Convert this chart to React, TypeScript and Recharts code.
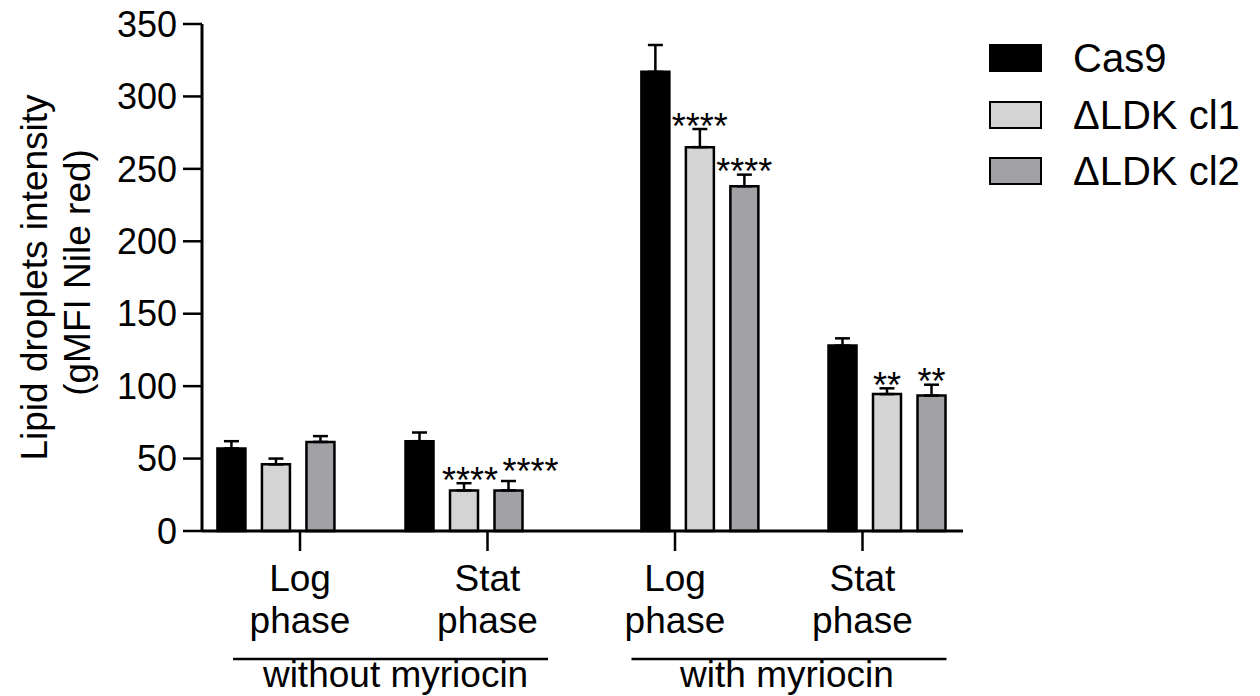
import React from 'react';
import { BarChart, Bar, XAxis, YAxis, ErrorBar, Legend, LabelList } from 'recharts';

const FONT = '"Liberation Sans", Arial, Helvetica, sans-serif';

// Category (tick) labels
const tickLine1 = ['Log', 'Stat', 'Log', 'Stat'];
const tickLine2 = ['phase', 'phase', 'phase', 'phase'];
const tickValues = [1, 2, 3, 4];
// Bar group positions on the numeric x scale (Prism offsets bars from ticks, with a wider gap between treatments)
const groupX = [0.872, 1.875, 3.133, 4.131];
// Treatment brackets
const treatments = ['without myriocin', 'with myriocin'];
const treatmentX = [1.483, 3.608];

// Series values
const seriesNames = ['Cas9', '\u0394LDK cl1', '\u0394LDK cl2'];
const seriesColors = ['#000000', '#d4d4d4', '#a2a2a6'];
const cas9 = [57, 62, 317, 128];
const cas9Err = [5, 6, 18.5, 5];
const cl1 = [46, 28, 265, 94.5];
const cl1Err = [4, 5, 12.5, 4];
const cl2 = [61.5, 28, 238, 93.5];
const cl2Err = [4, 6.5, 8, 7.5];
const cl1Sig = ['', '****', '****', '**'];
const cl2Sig = ['', '****', '****', '**'];

const yTicks = [0, 50, 100, 150, 200, 250, 300, 350];

const data = groupX.map((x, i) => ({
  x,
  cas9: cas9[i],
  cas9Err: [0, cas9Err[i]],
  cl1: cl1[i],
  cl1Err: [0, cl1Err[i]],
  cl1Sig: cl1Sig[i],
  cl2: cl2[i],
  cl2Err: [0, cl2Err[i]],
  cl2Sig: cl2Sig[i],
}));

const sigShift: Record<string, number[][]> = {
  cl1: [[0, 0], [6, 0], [0, 0], [0, 0]],
  cl2: [[0, 0], [22, -7], [0, 0], [0, 0]],
};

const makeSigLabel = (key: 'cl1' | 'cl2', errArr: number[], valArr: number[]) => (props: any) => {
  const { x, y, width, height, index, value } = props;
  if (!value) return null;
  const v = valArr[index];
  const pxPerUnit = height / v;
  const capY = y - errArr[index] * pxPerUnit;
  const [dx, dy] = sigShift[key][index];
  const cy = capY - 11 + dy;
  const fs = 36;
  return (
    <text
      x={x + width / 2 + dx}
      y={cy + 0.575 * fs}
      textAnchor="middle"
      fontFamily={FONT}
      fontSize={fs}
      fill="#000"
    >
      {value}
    </text>
  );
};

const XTick = (props: any) => {
  const { x, y, payload } = props;
  const i = tickValues.indexOf(payload.value);
  return (
    <g>
      <text x={x} y={y + 40} textAnchor="middle" fontFamily={FONT} fontSize={37} fill="#000">
        {tickLine1[i]}
      </text>
      <text x={x} y={y + 82} textAnchor="middle" fontFamily={FONT} fontSize={37} fill="#000">
        {tickLine2[i]}
      </text>
    </g>
  );
};

const GroupTick = (props: any) => {
  const { x, y, payload } = props;
  const i = treatmentX.indexOf(payload.value);
  return (
    <g>
      <line x1={x - 157.5} x2={x + 157.5} y1={y + 20} y2={y + 20} stroke="#000" strokeWidth={2.5} />
      <text x={x + (i === 0 ? 5 : -2)} y={y + 48} textAnchor="middle" fontFamily={FONT} fontSize={37} fill="#000">
        {treatments[i]}
      </text>
    </g>
  );
};

const YLabel = (props: any) => {
  const { viewBox } = props;
  const cy = viewBox.y + viewBox.height / 2;
  const c1 = cy;
  const c2 = cy - 5;
  return (
    <g>
      <text
        x={47}
        y={c1}
        transform={`rotate(-90, 47, ${c1})`}
        textAnchor="middle"
        fontFamily={FONT}
        fontSize={37}
        fill="#000"
      >
        Lipid droplets intensity
      </text>
      <text
        x={90}
        y={c2}
        transform={`rotate(-90, 90, ${c2})`}
        textAnchor="middle"
        fontFamily={FONT}
        fontSize={37}
        fill="#000"
      >
        (gMFI Nile red)
      </text>
    </g>
  );
};

const LegendContent = () => (
  <div style={{ fontFamily: FONT, fontSize: 40, color: '#000' }}>
    {seriesNames.map((n, i) => (
      <div key={n} style={{ display: 'flex', alignItems: 'center', height: 56.5 }}>
        <div
          style={{
            width: 53,
            height: 28,
            boxSizing: 'border-box',
            background: seriesColors[i],
            border: '2.5px solid #000',
          }}
        />
        <span style={{ marginLeft: 31, lineHeight: '56px', whiteSpace: 'nowrap' }}>{n}</span>
      </div>
    ))}
  </div>
);

export default function App() {
  return (
    <div style={{ position: 'absolute', left: 0, top: 0, width: 1260, height: 696, background: '#fff' }}>
      <BarChart
        width={1260}
        height={696}
        data={data}
        margin={{ top: 24, right: 297, bottom: 0, left: 0 }}
        barGap={16.5}
        barSize={28}
      >
        <XAxis
          xAxisId="axisB"
          dataKey="x"
          type="number"
          domain={[0.4773, 4.536]}
          ticks={treatmentX}
          height={57}
          tick={<GroupTick />}
          tickSize={0}
          tickMargin={0}
          axisLine={false}
          tickLine={false}
          allowDataOverflow
        />
        <XAxis
          xAxisId="axisA"
          dataKey="x"
          type="number"
          domain={[0.4773, 4.536]}
          ticks={tickValues}
          height={108}
          tick={<XTick />}
          tickSize={20}
          tickMargin={0}
          axisLine={{ stroke: '#000', strokeWidth: 3 }}
          tickLine={{ stroke: '#000', strokeWidth: 2.5 }}
          allowDataOverflow
        />
        <YAxis
          type="number"
          domain={[0, 350]}
          ticks={yTicks}
          width={202}
          tickSize={19}
          tickMargin={6}
          axisLine={{ stroke: '#000', strokeWidth: 3 }}
          tickLine={{ stroke: '#000', strokeWidth: 2.5 }}
          tick={{ fontFamily: FONT, fontSize: 36, fill: '#000' }}
          label={<YLabel />}
        />
        <Legend
          layout="vertical"
          align="center"
          verticalAlign="middle"
          content={<LegendContent />}
          wrapperStyle={{ left: 989, top: 30, width: 271 }}
        />
        <Bar xAxisId="axisA" dataKey="cas9" name={seriesNames[0]} fill={seriesColors[0]} stroke="#000" strokeWidth={2.5} isAnimationActive={false}>
          <ErrorBar dataKey="cas9Err" width={7.5} stroke="#000" strokeWidth={2.5} direction="y" />
        </Bar>
        <Bar xAxisId="axisA" dataKey="cl1" name={seriesNames[1]} fill={seriesColors[1]} stroke="#000" strokeWidth={2.5} isAnimationActive={false}>
          <ErrorBar dataKey="cl1Err" width={7.5} stroke="#000" strokeWidth={2.5} direction="y" />
          <LabelList dataKey="cl1Sig" content={makeSigLabel('cl1', cl1Err, cl1)} />
        </Bar>
        <Bar xAxisId="axisA" dataKey="cl2" name={seriesNames[2]} fill={seriesColors[2]} stroke="#000" strokeWidth={2.5} isAnimationActive={false}>
          <ErrorBar dataKey="cl2Err" width={7.5} stroke="#000" strokeWidth={2.5} direction="y" />
          <LabelList dataKey="cl2Sig" content={makeSigLabel('cl2', cl2Err, cl2)} />
        </Bar>
      </BarChart>
    </div>
  );
}
